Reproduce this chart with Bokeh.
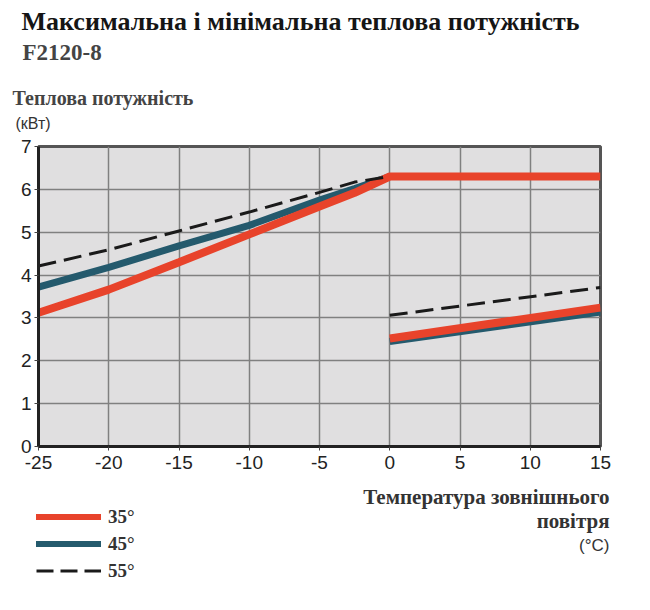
from bokeh.plotting import figure
from bokeh.models import Label, Legend, LegendItem, FixedTicker, Range1d
from bokeh.embed import file_html
from bokeh.resources import INLINE

# ---- data ----
x_hi = [-25, -20, -15, -10, -5, -2.5, 0, 15]
red_hi = [3.12, 3.66, 4.3, 4.95, 5.6, 5.92, 6.3, 6.3]
x_hi2 = [-25, -20, -15, -10, -5, -2.5, 0]
blue_hi = [3.72, 4.18, 4.68, 5.16, 5.75, 6.02, 6.3]
dash_hi = [4.21, 4.59, 5.03, 5.47, 5.93, 6.17, 6.3]
x_lo = [0, 15]
red_lo = [2.52, 3.24]
blue_lo = [2.45, 3.14]
dash_lo = [3.06, 3.71]
x_ticks = [-25, -20, -15, -10, -5, 0, 5, 10, 15]
y_ticks = [0, 1, 2, 3, 4, 5, 6, 7]
series_labels = ["35°", "45°", "55°"]
title_text = "Максимальна і мінімальна теплова потужність"
model_text = "F2120-8"
y_title = ["Теплова потужність", "(кВт)"]
x_title = ["Температура зовнішнього", "повітря", "(°C)"]

RED = "#E8432B"
BLUE = "#245A6D"
DASH = "#1a1a1a"
W = 634
TOP_H, MAIN_H, BOT_H = 136, 346, 112
NAN = float("nan")


def blank(h, y0):
    f = figure(width=W, height=h, output_backend="svg", toolbar_location=None,
               x_range=Range1d(0, W), y_range=Range1d(y0 + h, y0),
               x_axis_type=None, y_axis_type=None, min_border=0)
    f.outline_line_color = None
    f.background_fill_color = "white"
    f.border_fill_color = "white"
    return f


def txt(f, x, y, t, font, size, color, style="normal", align="left"):
    f.add_layout(Label(x=x, y=y, text=t, text_font=font, text_font_size=size,
                       text_color=color, text_font_style=style,
                       text_align=align, text_baseline="alphabetic"))


# ---- top: titles ----
top = blank(TOP_H, 0)
txt(top, 21, 21, title_text, "Liberation Serif", "26px", "#151515", "bold")
txt(top, 22, 52, model_text, "Liberation Serif", "23px", "#444444", "bold")
txt(top, 12, 97, y_title[0], "Liberation Serif", "20px", "#444444", "bold")
txt(top, 15, 123, y_title[1], "Liberation Sans", "16px", "#333333")

# ---- main chart ----
p = figure(width=W, height=MAIN_H, output_backend="svg", toolbar_location=None,
           x_range=Range1d(-25, 15), y_range=Range1d(0, 7),
           min_border_left=38, min_border_right=34, min_border_top=10,
           min_border_bottom=36)
p.background_fill_color = "#E0DFE0"
p.border_fill_color = "white"
p.outline_line_color = "#555555"
p.outline_line_width = 3

p.xaxis.ticker = FixedTicker(ticks=x_ticks)
p.yaxis.ticker = FixedTicker(ticks=y_ticks)
p.xaxis.major_label_overrides = {t: str(t) for t in x_ticks}
p.yaxis.major_label_overrides = {t: str(t) for t in y_ticks}
for ax in (p.xaxis[0], p.yaxis[0]):
    ax.axis_line_color = "#222222"
    ax.axis_line_width = 3
    ax.major_tick_line_color = "#444444"
    ax.major_tick_line_width = 1
    ax.major_tick_out = 4
    ax.major_tick_in = 0
    ax.minor_tick_line_color = None
    ax.major_label_text_font = "Liberation Sans"
    ax.major_label_text_font_size = "19px"
    ax.major_label_text_color = "#222222"
p.xaxis.major_label_standoff = 5
p.yaxis.major_label_standoff = 3
p.grid.grid_line_color = "#808080"
p.grid.grid_line_width = 1.5

p.line(x_hi2, blue_hi, line_color=BLUE, line_width=7)
p.line(x_lo, blue_lo, line_color=BLUE, line_width=7)
p.line(x_hi, red_hi, line_color=RED, line_width=8)
p.line(x_lo, red_lo, line_color=RED, line_width=8)
p.line(x_hi2, dash_hi, line_color=DASH, line_width=3, line_dash="18 8")
p.line(x_lo, dash_lo, line_color=DASH, line_width=3, line_dash="18 8")

# ---- bottom: legend and x-axis title ----
bot = blank(BOT_H, TOP_H + MAIN_H)
lr = bot.line([NAN, NAN], [NAN, NAN], line_color=RED, line_width=6, line_cap="round")
lb = bot.line([NAN, NAN], [NAN, NAN], line_color=BLUE, line_width=6, line_cap="round")
ld = bot.line([NAN, NAN], [NAN, NAN], line_color=DASH, line_width=3, line_dash="17 7")
legend = Legend(items=[LegendItem(label=series_labels[0], renderers=[lr]),
                       LegendItem(label=series_labels[1], renderers=[lb]),
                       LegendItem(label=series_labels[2], renderers=[ld])],
                location=(36, 12), orientation="vertical",
                glyph_width=65, glyph_height=23, label_height=23,
                spacing=4, padding=0, margin=0, label_standoff=7,
                border_line_color=None, background_fill_alpha=0,
                label_text_font="Liberation Serif", label_text_font_style="bold",
                label_text_font_size="19px", label_text_color="#333333")
bot.add_layout(legend, "center")
txt(bot, 609, 496, x_title[0], "Liberation Serif", "21px", "#333333", "bold", "right")
txt(bot, 609, 520, x_title[1], "Liberation Serif", "21px", "#333333", "bold", "right")
txt(bot, 609, 545, x_title[2], "Liberation Sans", "17px", "#333333", "normal", "right")

open("out.html", "w").write(file_html([top, p, bot], INLINE))
